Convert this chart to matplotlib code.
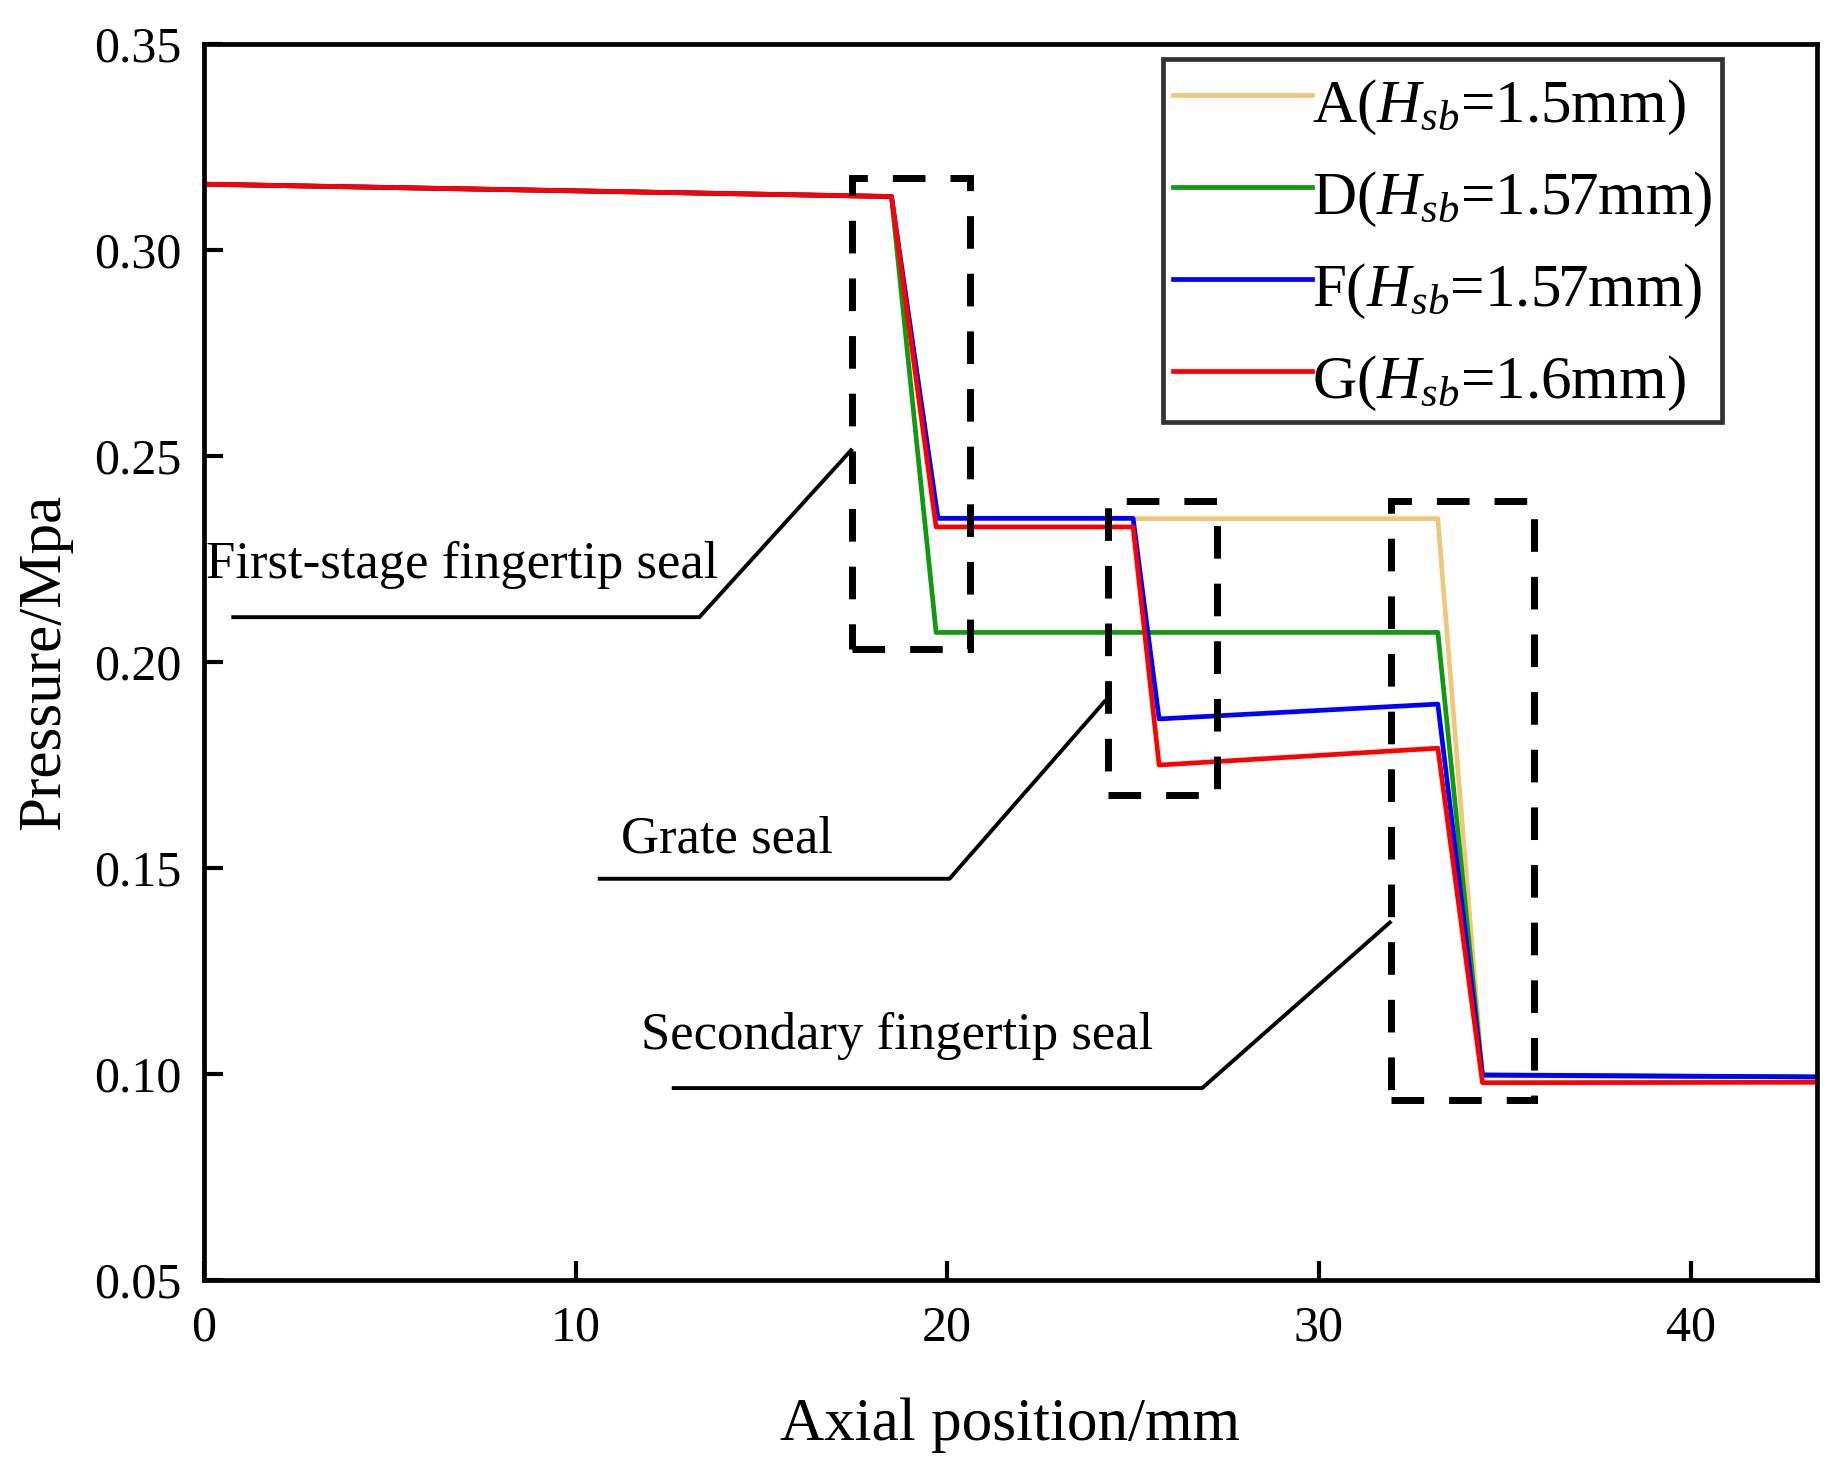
import matplotlib
matplotlib.use('Agg')
import matplotlib.pyplot as plt
from matplotlib.patches import Rectangle

plt.rcParams['font.family'] = ['Liberation Serif', 'DejaVu Serif']
plt.rcParams['mathtext.fontset'] = 'custom'
plt.rcParams['mathtext.rm'] = 'Liberation Serif'
plt.rcParams['mathtext.it'] = 'Liberation Serif:italic'

# axial position (mm) and pressure (MPa)
x_a = [0, 18.5, 19.75, 33.2, 34.4, 43.4]
p_a = [0.316, 0.313, 0.2348, 0.2348, 0.0996, 0.0993]

x_d = [0, 18.5, 19.7, 33.2, 34.4, 43.4]
p_d = [0.316, 0.313, 0.2072, 0.2072, 0.0997, 0.0993]

x_f = [0, 18.5, 19.75, 25.0, 25.7, 33.2, 34.4, 43.4]
p_f = [0.316, 0.313, 0.2349, 0.2349, 0.1862, 0.1898, 0.0998, 0.0993]

x_g = [0, 18.5, 19.7, 25.0, 25.7, 33.2, 34.4, 43.4]
p_g = [0.316, 0.313, 0.2328, 0.2328, 0.1750, 0.1791, 0.0979, 0.0980]

labels = ['A($H_{sb}$=1.5mm)', 'D($H_{sb}$=1.57mm)',
          'F($H_{sb}$=1.57mm)', 'G($H_{sb}$=1.6mm)']
colors = ['#EEC77A', '#109A10', '#0000FF', '#FF0000']

# dashed boxes: (x0, x1, y0, y1)
boxes = [(17.44, 20.62, 0.2032, 0.3174),
         (24.32, 27.26, 0.1678, 0.2392),
         (31.93, 35.78, 0.0936, 0.2392)]

# leader lines and their texts
leaders = [([0.79, 13.33, 17.41], [0.2109, 0.2109, 0.2514]),
           ([10.65, 20.06, 24.23], [0.1474, 0.1474, 0.1904]),
           ([12.64, 26.86, 31.91], [0.0966, 0.0966, 0.1368])]
notes = [('First-stage fingertip seal', 0.06, 0.2204),
         ('Grate seal', 11.22, 0.1537),
         ('Secondary fingertip seal', 11.75, 0.1061)]

fig = plt.figure(figsize=(18.42, 14.8), dpi=100)
ax = fig.add_axes([0.1107, 0.1351, 0.8757, 0.8351])

for xs, ps, lab, c in zip([x_a, x_d, x_f, x_g], [p_a, p_d, p_f, p_g], labels, colors):
    ax.plot(xs, ps, color=c, lw=3.4, label=lab)

for x0, x1, y0, y1 in boxes:
    ax.add_patch(Rectangle((x0, y0), x1 - x0, y1 - y0, fill=False, ec='black',
                           lw=5, ls=(0, (4.7, 3.6)), zorder=5))

for xs, ys in leaders:
    ax.plot(xs, ys, color='black', lw=2.8)

for txt, tx, ty in notes:
    ax.text(tx, ty, txt, fontsize=38, ha='left', va='baseline')

ax.set_xlim(0, 43.4)
ax.set_ylim(0.05, 0.35)
ax.set_xticks([0, 10, 20, 30, 40])
ax.set_yticks([0.05, 0.10, 0.15, 0.20, 0.25, 0.30, 0.35])
ax.set_yticklabels(['%.2f' % v for v in ax.get_yticks()])
ax.tick_params(direction='in', length=14, width=3, labelsize=36)
ax.tick_params(axis='x', pad=18)
ax.tick_params(axis='y', pad=16)
for s in ax.spines.values():
    s.set_linewidth(3.4)

ax.set_xlabel('Axial position/mm', fontsize=44, labelpad=33)
ax.set_ylabel('Pressure/Mpa', fontsize=44, labelpad=16)

leg = ax.legend(loc='upper right', bbox_to_anchor=(0.941, 0.988), fontsize=44,
                handlelength=2.28, handleheight=1.3, handletextpad=0.0,
                labelspacing=0.38, borderaxespad=0, borderpad=0.15,
                fancybox=False, framealpha=1)
leg.get_frame().set_edgecolor('#333333')
leg.get_frame().set_linewidth(3.4)

fig.savefig('out.png', dpi=100)
